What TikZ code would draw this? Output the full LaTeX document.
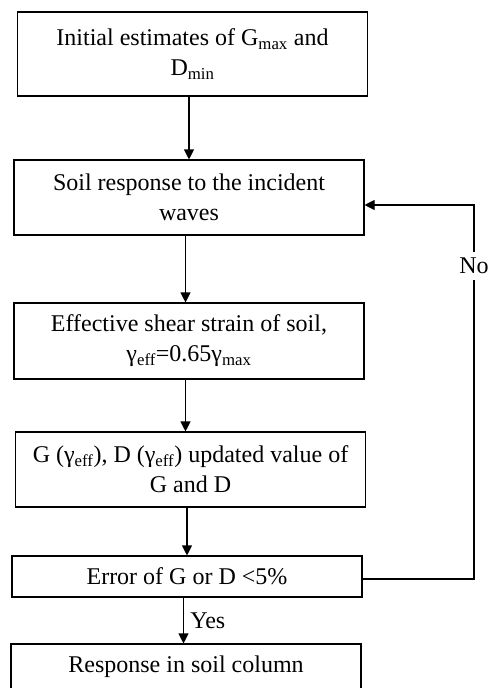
\documentclass[tikz,border=0pt]{standalone}
\usepackage{fontspec}
\setmainfont{Liberation Serif}
\usetikzlibrary{arrows.meta,positioning,calc}

\begin{document}
\begin{tikzpicture}[x=1pt, y=-1pt,
    font=\fontsize{24}{30}\selectfont,
    box/.style={draw, line width=1.1pt, align=center, inner sep=0pt, minimum width=350pt},
    flow/.style={line width=1.1pt, -{Triangle[length=10pt,width=10pt]}}]
    \useasboundingbox (0,0) rectangle (490,688);
    \clip (0,0) rectangle (490,688);
    % boxes
    \node[box, minimum height=84pt] (init) at (192.5,54) {Initial estimates of G\textsubscript{max} and\\D\textsubscript{min}};
    \node[box, minimum height=75pt] (soil) at (189,197.5) {Soil response to the incident\\waves};
    \node[box, minimum height=76pt] (strain) at (189,341) {Effective shear strain of soil,\\γ\textsubscript{eff}=0.65γ\textsubscript{max}};
    \node[box, minimum height=75pt] (update) at (190.5,469.5) {G (γ\textsubscript{eff}), D (γ\textsubscript{eff}) updated value of\\G and D};
    \node[box, minimum height=41pt] (check) at (187,576.5) {Error of G or D <5\%};
    \node[box, minimum height=46pt] (resp) at (186,667) {Response in soil column};
    % main flow
    \foreach \a/\b in {init/soil, soil/strain, strain/update, update/check}
        \draw[flow] ([xshift=-3.5pt]\a.south) -- ([xshift=-3.5pt]\a.south |- \b.north);
    \draw[flow] ([xshift=-3.5pt]check.south) -- ([xshift=-3.5pt]check.south |- resp.north)
        node[midway, right, xshift=3pt] (yes) {Yes};
    % loop back
    \node[inner sep=6pt] (no) at (474,266) {No};
    \draw[line width=1.1pt] ([yshift=-2.5pt]check.east) -| (no.south);
    \draw[flow] (no.north) |- ([yshift=-7.5pt]soil.east);
\end{tikzpicture}
\end{document}
